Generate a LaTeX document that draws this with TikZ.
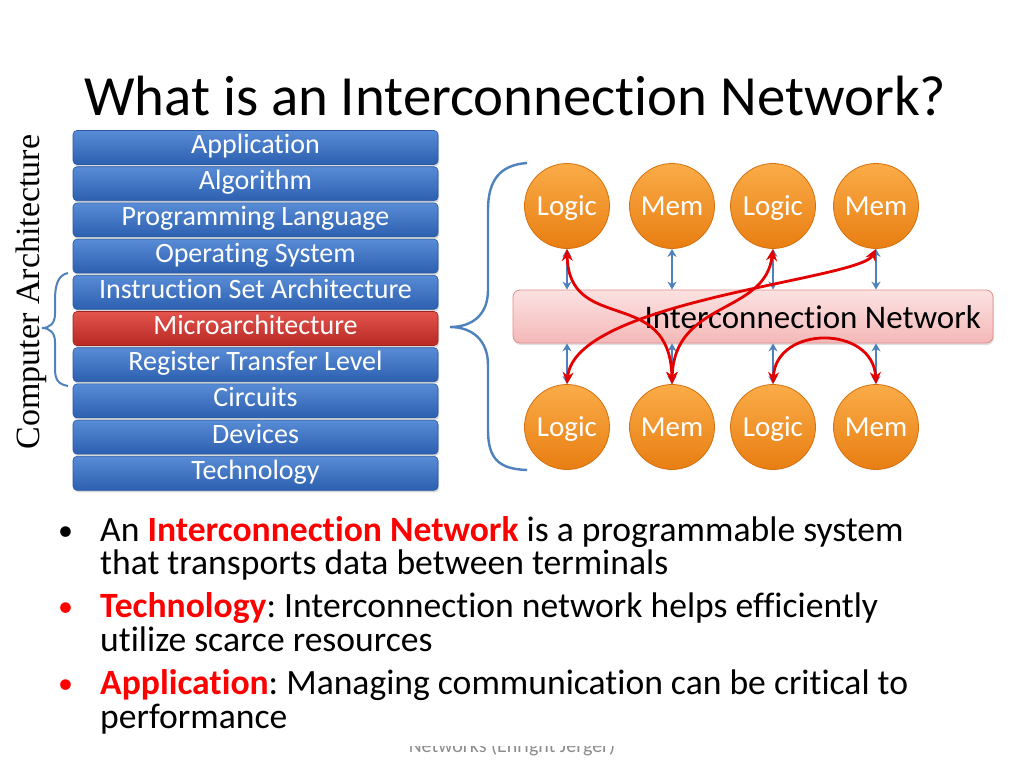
\documentclass[tikz,border=0pt]{standalone}
\usepackage{fontspec}
\setmainfont{Carlito}[Ligatures=NoCommon]
\newfontfamily\archserif{Liberation Serif}
\usetikzlibrary{arrows.meta,shadows}
\definecolor{layertop}{RGB}{88,140,214}
\definecolor{layerbot}{RGB}{44,96,176}
\definecolor{layeredge}{RGB}{40,86,160}
\definecolor{microtop}{RGB}{226,84,76}
\definecolor{microbot}{RGB}{184,40,36}
\definecolor{microedge}{RGB}{160,34,30}
\definecolor{orangetop}{RGB}{250,172,72}
\definecolor{orangebot}{RGB}{232,126,18}
\definecolor{orangeedge}{RGB}{214,112,14}
\definecolor{pinktop}{RGB}{252,226,226}
\definecolor{pinkbot}{RGB}{244,184,184}
\definecolor{pinkedge}{RGB}{226,140,140}
\definecolor{bracecol}{RGB}{79,129,189}
\definecolor{linkblue}{RGB}{79,129,189}
\definecolor{routered}{RGB}{228,0,0}
\definecolor{hired}{RGB}{255,0,0}
\definecolor{footgray}{RGB}{140,140,140}
\tikzset{
  layer/.style={rectangle, rounded corners=4pt, minimum width=365pt, minimum height=34pt,
    inner sep=0pt, top color=layertop, bottom color=layerbot, draw=layeredge, line width=0.6pt,
    text=white, font=\fontsize{28}{30}\selectfont, text height=13pt, text depth=1pt,
    drop shadow={shadow xshift=1pt, shadow yshift=-2pt, opacity=0.3}},
  microlayer/.style={layer, top color=microtop, bottom color=microbot, draw=microedge},
  terminal/.style={circle, minimum size=85pt, inner sep=0pt, top color=orangetop,
    bottom color=orangebot, draw=orangeedge, line width=0.8pt, text=white,
    font=\fontsize{29}{31}\selectfont, text height=19pt, text depth=0pt},
  netbox/.style={rectangle, rounded corners=7pt, minimum width=480pt, minimum height=53pt,
    inner sep=0pt, top color=pinktop, bottom color=pinkbot, draw=pinkedge, line width=0.8pt,
    drop shadow={shadow xshift=1pt, shadow yshift=-2pt, opacity=0.25}},
  brace/.style={draw=bracecol, line width=2pt},
  link/.style={draw=linkblue, line width=2.6pt, {Stealth[length=8pt,width=9pt]}-{Stealth[length=8pt,width=9pt]}},
  route/.style={draw=routered, line width=2.8pt, {Stealth[length=12pt,width=11pt]}-{Stealth[length=12pt,width=11pt]}},
  bodytext/.style={anchor=base west, inner sep=0pt, font=\fontsize{35.6}{36}\selectfont},
  bul/.style={anchor=base west, inner sep=0pt, font=\fontsize{30}{32}\selectfont}
}
\begin{document}
\frenchspacing
\begin{tikzpicture}[x=1pt,y=-1pt]
\useasboundingbox[fill=white] (0,0) rectangle (1024,768);

% title
\node[anchor=base west, inner sep=0pt, font=\fontsize{56.8}{60}\selectfont] (title) at (84,115) {What is an Interconnection Network?};

% stack
\node[layer] (s0) at (255.5,147.5) {Application};
\node[layer] (s1) at (255.5,183.7) {Algorithm};
\node[layer] (s2) at (255.5,219.9) {Programming Language};
\node[layer] (s3) at (255.5,256.1) {Operating System};
\node[layer] (s4) at (255.5,292.3) {Instruction Set Architecture};
\node[microlayer] (s5) at (255.5,328.5) {Microarchitecture};
\node[layer] (s6) at (255.5,364.7) {Register Transfer Level};
\node[layer] (s7) at (255.5,400.9) {Circuits};
\node[layer] (s8) at (255.5,437.1) {Devices};
\node[layer] (s9) at (255.5,473.3) {Technology};

% computer architecture label and brace
\node[rotate=90, inner sep=0pt, font=\archserif\fontsize{34}{36}\selectfont] (ca) at (31,292) {Computer Architecture};
\draw[brace] (68,273) .. controls (58,275) and (55,285) .. (55,300) -- (55,314)
  .. controls (55,323) and (50,328) .. (42,328) .. controls (50,328) and (55,333) .. (55,342)
  -- (55,368) .. controls (55,380) and (58,384) .. (68,386);

% big brace
\draw[brace, line width=2.4pt] (527,163) .. controls (500,165) and (488,180) .. (488,210) -- (488,290)
  .. controls (488,315) and (472,327) .. (450,327) .. controls (472,327) and (488,340) .. (488,365)
  -- (488,430) .. controls (488,460) and (500,469) .. (527,470);

% network box
\node[netbox] (net) at (753,316.5) {};
\node[anchor=east, inner sep=0pt, font=\fontsize{33}{35}\selectfont] (netlabel) at (981,317) {Interconnection Network};

% terminals
\node[terminal] (t1) at (567,206) {Logic};
\node[terminal] (t2) at (672,206) {Mem};
\node[terminal] (t3) at (773,206) {Logic};
\node[terminal] (t4) at (876,206) {Mem};
\node[terminal] (b1) at (567,427) {Logic};
\node[terminal] (b2) at (672,427) {Mem};
\node[terminal] (b3) at (773,427) {Logic};
\node[terminal] (b4) at (876,427) {Mem};

% blue links
\foreach \n in {t1,t2,t3,t4}{\draw[link] (\n.south) -- (\n.south |- net.north);}
\foreach \n in {b1,b2,b3,b4}{\draw[link] (net.south -| \n.north) -- (\n.north);}

% red routes
\draw[route] (t1.south) .. controls (569,335) and (670,285) .. (b2.north);
\draw[route] (b2.north) .. controls (674,300) and (765,315) .. (t3.south);
\draw[route] (b1.north) .. controls (575,300) and (860,280) .. (t4.south);
\draw[route] (b3.north) .. controls (776,325) and (873,325) .. (b4.north);

% bullets
\node[bul] (d1) at (58,540) {•};
\node[bodytext] (l1) at (100,541) {An \textcolor{hired}{\textbf{Interconnection Network}} is a programmable system};
\node[bodytext] (l2) at (100,574) {that transports data between terminals};
\node[bul, text=hired] (d2) at (58,616) {•};
\node[bodytext] (l3) at (100,617) {\textcolor{hired}{\textbf{Technology}}: Interconnection network helps efficiently};
\node[bodytext] (l4) at (100,651) {utilize scarce resources};
\node[bul, text=hired] (d3) at (58,693) {•};
\node[bodytext] (l5) at (100,694) {\textcolor{hired}{\textbf{Application}}: Managing communication can be critical to};
\node[bodytext] (l6) at (100,728) {performance};

% footer (partly hidden)
\begin{scope}
\clip (0,746) rectangle (1024,768);
\node[anchor=base, inner sep=0pt, text=footgray, font=\fontsize{20}{22}\selectfont] (footer) at (512,752) {Networks (Enright Jerger)};
\end{scope}
\end{tikzpicture}
\end{document}
